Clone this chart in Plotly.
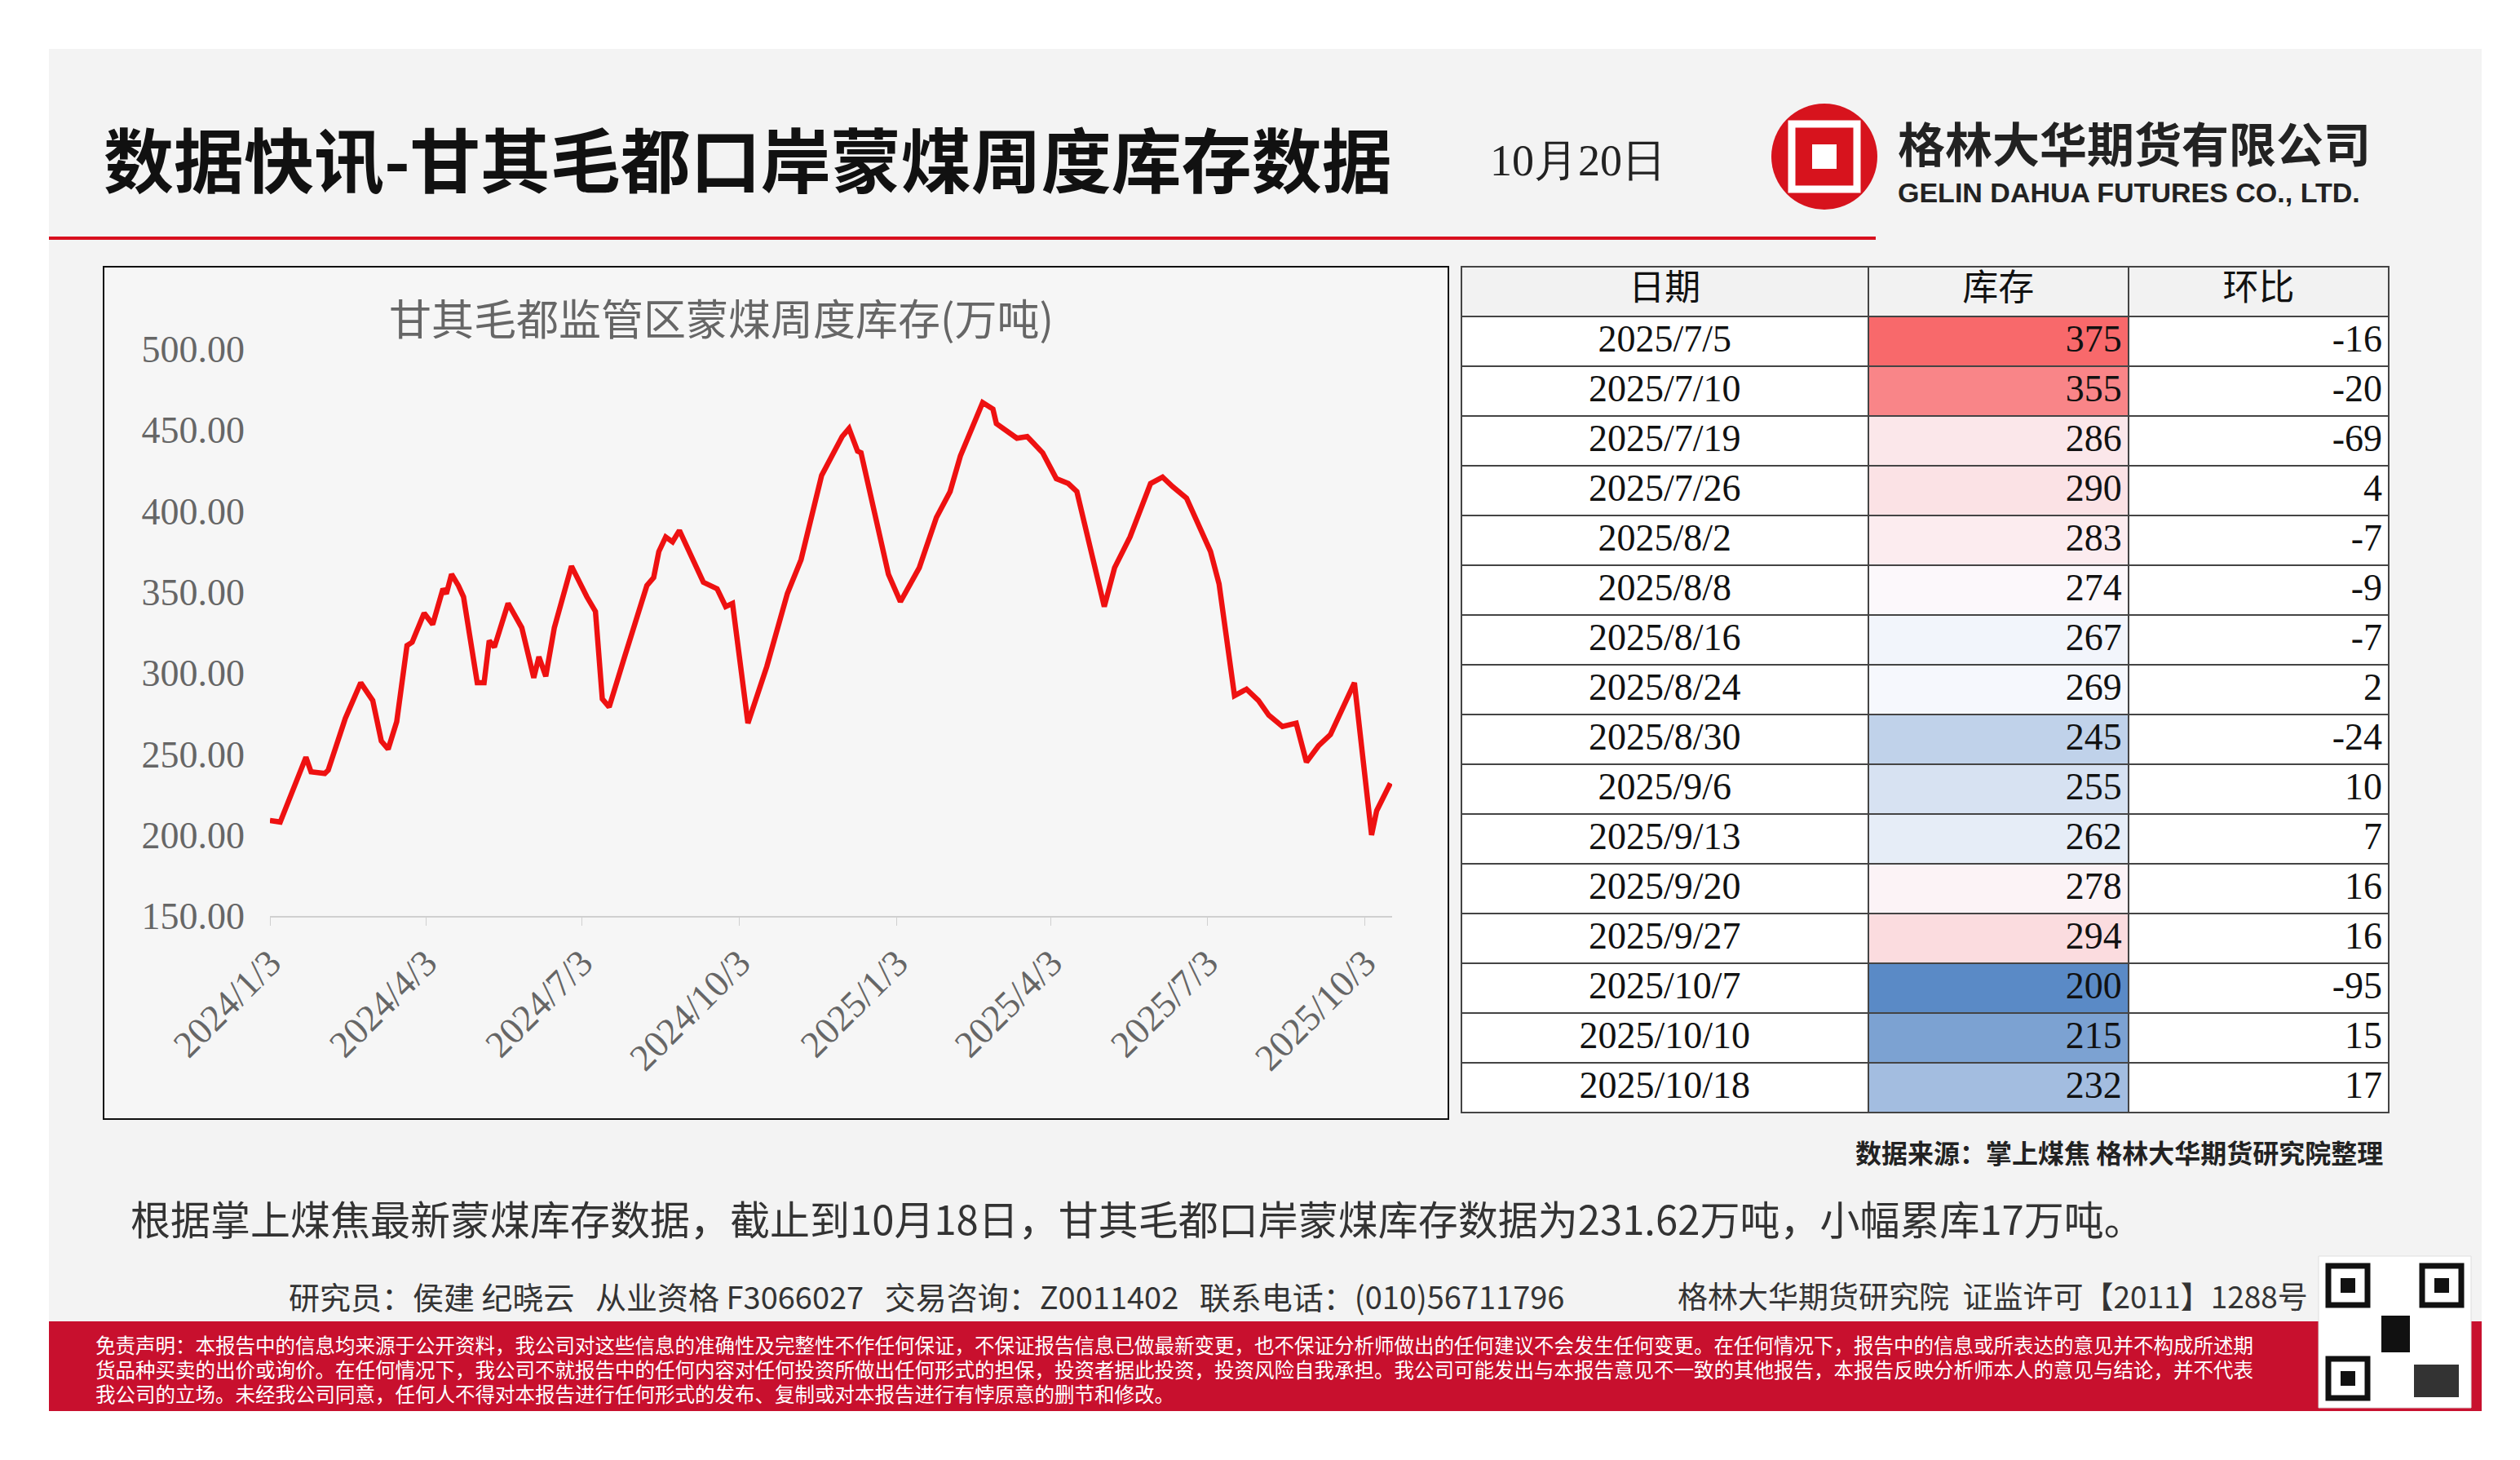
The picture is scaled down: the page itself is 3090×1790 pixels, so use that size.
import plotly.graph_objects as go

W, H = 3090, 1790
def px(x): return (x - 8) / W
def py(y): return 1 - (y - 8) / H

line_dates = ["2024-01-03","2024-01-09","2024-01-24","2024-01-27","2024-02-04","2024-02-06","2024-02-16","2024-02-25",
"2024-03-03","2024-03-08","2024-03-12","2024-03-17","2024-03-23","2024-03-26","2024-04-02","2024-04-07","2024-04-13",
"2024-04-15","2024-04-18","2024-04-22","2024-04-25","2024-05-03","2024-05-07","2024-05-10","2024-05-13","2024-05-21",
"2024-05-29","2024-06-05","2024-06-08","2024-06-12","2024-06-17","2024-06-27","2024-07-06","2024-07-11","2024-07-15",
"2024-07-19","2024-07-28","2024-08-10","2024-08-14","2024-08-17","2024-08-21","2024-08-25","2024-08-29","2024-09-12",
"2024-09-20","2024-09-25","2024-09-29","2024-10-08","2024-10-19","2024-10-31","2024-11-08","2024-11-20","2024-12-02",
"2024-12-06","2024-12-11","2024-12-13","2024-12-29","2025-01-05","2025-01-16","2025-01-26","2025-02-03","2025-02-09",
"2025-02-22","2025-02-28","2025-03-02","2025-03-14","2025-03-20","2025-03-29","2025-04-06","2025-04-13","2025-04-18",
"2025-05-04","2025-05-10","2025-05-19","2025-05-31","2025-06-07","2025-06-13","2025-06-21"]
line_values = [209,208,248,239,238,240,272,294,283,258,253,270,317,319,337,330,352,349,361,354,347,294,294,320,316,343,
328,297,310,298,328,366,347,338,284,279,310,354,359,375,384,381,388,356,352,341,343,269,304,349,370,422,446,451,437,
436,361,344,365,396,412,434,467,463,454,445,446,436,420,417,412,341,365,384,417,421,415,408]

table_dates = ["2025/7/5","2025/7/10","2025/7/19","2025/7/26","2025/8/2","2025/8/8","2025/8/16","2025/8/24",
"2025/8/30","2025/9/6","2025/9/13","2025/9/20","2025/9/27","2025/10/7","2025/10/10","2025/10/18"]
table_stock = [375,355,286,290,283,274,267,269,245,255,262,278,294,200,215,232]
table_change = [-16,-20,-69,4,-7,-9,-7,2,-24,10,7,16,16,-95,15,17]

tick_vals = ["2024-01-03","2024-04-03","2024-07-03","2024-10-03","2025-01-03","2025-04-03","2025-07-03","2025-10-03"]
tick_text = ["2024/1/3","2024/4/3","2024/7/3","2024/10/3","2025/1/3","2025/4/3","2025/7/3","2025/10/3"]

tbl_x = []
for d in table_dates:
    y_, m_, d_ = d.split("/")
    tbl_x.append("%s-%02d-%02d" % (y_, int(m_), int(d_)))
all_x = line_dates + tbl_x
all_y = line_values + table_stock

# Excel-like 3-colour scale
srt = sorted(table_stock)
mid = (srt[7] + srt[8]) / 2
lo, hi = min(table_stock), max(table_stock)
def mix(c1, c2, t):
    return "rgb(%d,%d,%d)" % tuple(round(a + (b - a) * t) for a, b in zip(c1, c2))
blue, white, red = (90, 138, 198), (252, 252, 255), (248, 105, 107)
def col(v):
    if v <= mid: return mix(blue, white, (v - lo) / (mid - lo))
    return mix(white, red, (v - mid) / (hi - mid))
stock_colors = [col(v) for v in table_stock]

fig = go.Figure()
fig.add_trace(go.Scatter(x=all_x, y=all_y, mode="lines", line=dict(color="#ee1111", width=6.5),
                         hoverinfo="skip", showlegend=False))

nrow = len(table_dates)
fig.add_trace(go.Table(
    domain=dict(x=[px(1792), px(2930)], y=[py(1374), py(327)]),
    columnwidth=[253, 162, 162],
    header=dict(values=["日期", "库存", "环比"], height=61,
                fill_color="#f2f2f2", line=dict(color="#444", width=2),
                font=dict(family="Noto Sans CJK SC", size=44, color="#111"), align="center"),
    cells=dict(values=[table_dates, table_stock, table_change], height=61,
               fill_color=[["white"] * nrow, stock_colors, ["white"] * nrow],
               line=dict(color="#444", width=2),
               font=dict(family="Liberation Serif", size=46, color="#111"),
               align=["center", "right", "right"])))

shapes = [
    dict(type="rect", xref="paper", yref="paper", x0=px(60), x1=px(3043), y0=py(1730), y1=py(60),
         fillcolor="#f3f3f3", line=dict(width=0), layer="below"),
    dict(type="line", xref="paper", yref="paper", x0=px(60), x1=px(2300), y0=py(292), y1=py(292),
         line=dict(color="#d8101e", width=4), layer="below"),
    dict(type="rect", xref="paper", yref="paper", x0=px(127), x1=px(1776), y0=py(1372), y1=py(327),
         fillcolor="#f6f6f6", line=dict(color="#111", width=2), layer="below"),
    dict(type="rect", xref="paper", yref="paper", x0=px(60), x1=px(3043), y0=py(1730), y1=py(1620),
         fillcolor="#c8102e", line=dict(width=0)),
    # logo
    dict(type="circle", xref="paper", yref="paper", x0=px(2172), x1=px(2302), y0=py(257), y1=py(127),
         fillcolor="#d7131d", line=dict(width=0)),
    dict(type="rect", xref="paper", yref="paper", x0=px(2197), x1=px(2277), y0=py(232), y1=py(152),
         fillcolor="rgba(0,0,0,0)", line=dict(color="white", width=9)),
    dict(type="rect", xref="paper", yref="paper", x0=px(2222), x1=px(2252), y0=py(207), y1=py(177),
         fillcolor="white", line=dict(width=0)),
    # QR placeholder
    dict(type="rect", xref="paper", yref="paper", x0=px(2843), x1=px(3030), y0=py(1726), y1=py(1540),
         fillcolor="white", line=dict(color="#ddd", width=1)),
]
for (qx, qy) in [(2855, 1552), (2970, 1552), (2855, 1666)]:
    shapes.append(dict(type="rect", xref="paper", yref="paper", x0=px(qx), x1=px(qx + 48), y0=py(qy + 48), y1=py(qy),
                       fillcolor="white", line=dict(color="#111", width=7)))
    shapes.append(dict(type="rect", xref="paper", yref="paper", x0=px(qx + 15), x1=px(qx + 33), y0=py(qy + 33), y1=py(qy + 15),
                       fillcolor="#111", line=dict(width=0)))
shapes.append(dict(type="rect", xref="paper", yref="paper", x0=px(2920), x1=px(2955), y0=py(1658), y1=py(1613),
                   fillcolor="#111", line=dict(width=0)))
shapes.append(dict(type="rect", xref="paper", yref="paper", x0=px(2960), x1=px(3015), y0=py(1713), y1=py(1673),
                   fillcolor="#333", line=dict(width=0)))

def ann(text, x, y, size, color="#111", family="Noto Sans CJK SC", xanchor="left", bold=False):
    if bold: text = "<b>" + text + "</b>"
    return dict(text=text, x=px(x), y=py(y), xref="paper", yref="paper", showarrow=False,
                xanchor=xanchor, yanchor="middle", font=dict(size=size, color=color, family=family))

disc = ["免责声明：本报告中的信息均来源于公开资料，我公司对这些信息的准确性及完整性不作任何保证，不保证报告信息已做最新变更，也不保证分析师做出的任何建议不会发生任何变更。在任何情况下，报告中的信息或所表达的意见并不构成所述期",
        "货品种买卖的出价或询价。在任何情况下，我公司不就报告中的任何内容对任何投资所做出任何形式的担保，投资者据此投资，投资风险自我承担。我公司可能发出与本报告意见不一致的其他报告，本报告反映分析师本人的意见与结论，并不代表",
        "我公司的立场。未经我公司同意，任何人不得对本报告进行任何形式的发布、复制或对本报告进行有悖原意的删节和修改。"]

annotations = [
    ann("数据快讯-甘其毛都口岸蒙煤周度库存数据", 125, 192, 86, "#111", bold=True),
    ann("10月20日", 1825, 197, 54, "#222", family="Liberation Serif"),
    ann("格林大华期货有限公司", 2325, 174, 58, "#222", bold=True),
    ann("GELIN DAHUA FUTURES CO., LTD.", 2325, 236, 34, "#222", family="Liberation Sans", bold=True),
    ann("甘其毛都监管区蒙煤周度库存(万吨)", 475, 388, 52, "#666"),
    ann("数据来源：掌上煤焦 格林大华期货研究院整理", 2924, 1412, 32, "#222", xanchor="right", bold=True),
    ann("根据掌上煤焦最新蒙煤库存数据，截止到10月18日，甘其毛都口岸蒙煤库存数据为231.62万吨，小幅累库17万吨。",
        158, 1492, 49, "#333"),
    ann("研究员：侯建 纪晓云   从业资格 F3066027   交易咨询：Z0011402   联系电话：(010)56711796", 352, 1588, 38, "#333"),
    ann("格林大华期货研究院  证监许可【2011】1288号", 2055, 1588, 37, "#333"),
]
for i, t in enumerate(disc):
    annotations.append(ann(t, 115, 1648 + i * 30, 24.5, "white"))

fig.update_layout(
    width=W, height=H, margin=dict(l=0, r=0, t=0, b=0, autoexpand=False),
    paper_bgcolor="white", plot_bgcolor="rgba(0,0,0,0)",
    shapes=shapes, annotations=annotations, showlegend=False,
    xaxis=dict(domain=[px(331), px(1707)], range=["2024-01-03", "2025-10-19"], type="date", automargin=False,
               tickvals=tick_vals, ticktext=tick_text, tickangle=-45, showgrid=False,
               showline=True, linecolor="#d0d0d0", linewidth=2, ticks="outside", tickcolor="#d0d0d0",
               ticklen=10, tickfont=dict(family="Liberation Serif", size=46, color="#666")),
    yaxis=dict(domain=[py(1123), py(428)], range=[150, 500], tickvals=[150, 200, 250, 300, 350, 400, 450, 500],
               tickformat=".2f", showgrid=False, zeroline=False, showline=False, ticks="", automargin=False,
               ticklabelstandoff=30,
               tickfont=dict(family="Liberation Serif", size=46, color="#666")),
)
fig.write_html("out.html")
